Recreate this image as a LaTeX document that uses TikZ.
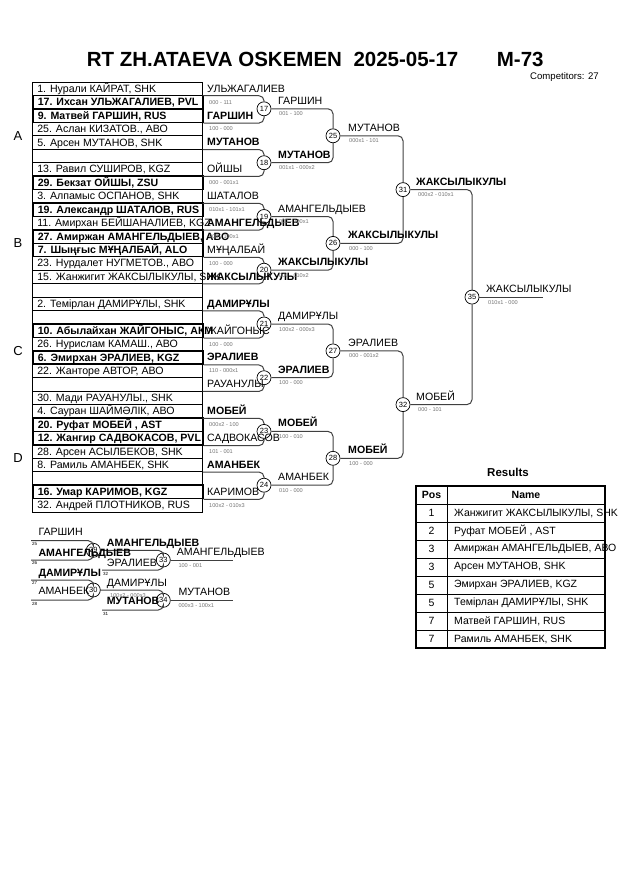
\documentclass[tikz,border=0pt]{standalone}
\usepackage{fontspec}
\setmainfont{Liberation Sans}
\newcommand{\rowtext}[1]{\makebox[170pt][l]{\hspace{5pt}#1}}
\begin{document}
\begin{tikzpicture}[x=1pt,y=-1pt,
  entrant/.style={draw,line width=0.6pt,anchor=west,minimum width=170pt,minimum height=13.44pt,inner sep=0pt,text height=8.6pt,text depth=1.5pt,font=\fontsize{10.6}{12}\selectfont},
  bentrant/.style={entrant,line width=1.5pt,font=\fontsize{10.6}{12}\selectfont\bfseries},
  winner/.style={anchor=base west,inner sep=0pt,font=\fontsize{10.6}{12}\selectfont},
  bwinner/.style={winner,font=\fontsize{10.6}{12}\selectfont\bfseries},
  score/.style={anchor=base west,inner sep=0pt,text=black!55,font=\fontsize{5.6}{6}\selectfont},
  tag/.style={anchor=base west,inner sep=0pt,font=\fontsize{4.5}{5}\selectfont},
  bout/.style={circle,draw,fill=white,line width=0.7pt,minimum size=14pt,inner sep=0pt,font=\fontsize{7.5}{8}\selectfont},
  link/.style={draw=black!75,line width=1pt,rounded corners=5pt},
  pool/.style={font=\fontsize{13}{15}\selectfont},
  cell/.style={font=\fontsize{10.5}{12}\selectfont}]
\useasboundingbox (0,0) rectangle (630,891);

% title
\node[anchor=base west,inner sep=0pt,font=\fontsize{20.5}{24}\selectfont\bfseries] (t1) at (86.7,66.5) {RT ZH.ATAEVA OSKEMEN};
\node[anchor=base west,inner sep=0pt,font=\fontsize{20.5}{24}\selectfont\bfseries] (t2) at (353.3,66.5) {2025-05-17};
\node[anchor=base west,inner sep=0pt,font=\fontsize{20.5}{24}\selectfont\bfseries] (t3) at (496.7,66.5) {M-73};
\node[anchor=base east,inner sep=0pt,font=\fontsize{9.6}{11}\selectfont] (comp) at (599,79.3) {Competitors: 27};

% pools
\node[pool] (pa) at (18,135.8) {A};
\node[pool] (pb) at (18,243.3) {B};
\node[pool] (pc) at (18,350.8) {C};
\node[pool] (pd) at (18,458.3) {D};

% entrants
\node[entrant] (r0) at (32,88.72) {\rowtext{1. Нурали КАЙРАТ, SHK}};
\node[bentrant] (r1) at (32,102.16) {\rowtext{17. Ихсан УЛЬЖАГАЛИЕВ, PVL}};
\node[bentrant] (r2) at (32,115.60) {\rowtext{9. Матвей ГАРШИН, RUS}};
\node[entrant] (r3) at (32,129.04) {\rowtext{25. Аслан КИЗАТОВ., АВО}};
\node[entrant] (r4) at (32,142.48) {\rowtext{5. Арсен МУТАНОВ, SHK}};
\node[entrant] (r5) at (32,155.92) {\rowtext{}};
\node[entrant] (r6) at (32,169.36) {\rowtext{13. Равил СУШИРОВ, KGZ}};
\node[bentrant] (r7) at (32,182.80) {\rowtext{29. Бекзат ОЙШЫ, ZSU}};
\node[entrant] (r8) at (32,196.24) {\rowtext{3. Алпамыс ОСПАНОВ, SHK}};
\node[bentrant] (r9) at (32,209.68) {\rowtext{19. Александр ШАТАЛОВ, RUS}};
\node[entrant] (r10) at (32,223.12) {\rowtext{11. Амирхан БЕЙШАНАЛИЕВ, KGZ}};
\node[bentrant] (r11) at (32,236.56) {\rowtext{27. Амиржан АМАНГЕЛЬДЫЕВ, АВО}};
\node[bentrant] (r12) at (32,250.00) {\rowtext{7. Шыңғыс МҰҢАЛБАЙ, ALO}};
\node[entrant] (r13) at (32,263.44) {\rowtext{23. Нурдалет НУГМЕТОВ., АВО}};
\node[entrant] (r14) at (32,276.88) {\rowtext{15. Жанжигит ЖАКСЫЛЫКУЛЫ, SHK}};
\node[entrant] (r15) at (32,290.32) {\rowtext{}};
\node[entrant] (r16) at (32,303.76) {\rowtext{2. Темірлан ДАМИРҰЛЫ, SHK}};
\node[entrant] (r17) at (32,317.20) {\rowtext{}};
\node[bentrant] (r18) at (32,330.64) {\rowtext{10. Абылайхан ЖАЙГОНЫС, АКМ}};
\node[entrant] (r19) at (32,344.08) {\rowtext{26. Нурислам КАМАШ., АВО}};
\node[bentrant] (r20) at (32,357.52) {\rowtext{6. Эмирхан ЭРАЛИЕВ, KGZ}};
\node[entrant] (r21) at (32,370.96) {\rowtext{22. Жанторе АВТОР, АВО}};
\node[entrant] (r22) at (32,384.40) {\rowtext{}};
\node[entrant] (r23) at (32,397.84) {\rowtext{30. Мади РАУАНУЛЫ., SHK}};
\node[entrant] (r24) at (32,411.28) {\rowtext{4. Сауран ШАЙМӘЛІК, АВО}};
\node[bentrant] (r25) at (32,424.72) {\rowtext{20. Руфат МОБЕЙ , AST}};
\node[bentrant] (r26) at (32,438.16) {\rowtext{12. Жангир САДВОКАСОВ, PVL}};
\node[entrant] (r27) at (32,451.60) {\rowtext{28. Арсен АСЫЛБЕКОВ, SHK}};
\node[entrant] (r28) at (32,465.04) {\rowtext{8. Рамиль АМАНБЕК, SHK}};
\node[entrant] (r29) at (32,478.48) {\rowtext{}};
\node[bentrant] (r30) at (32,491.92) {\rowtext{16. Умар КАРИМОВ, KGZ}};
\node[entrant] (r31) at (32,505.36) {\rowtext{32. Андрей ПЛОТНИКОВ, RUS}};

% bouts
\node[bout] (m17) at (264,108.8) {17};
\node[bout] (m18) at (264,162.7) {18};
\node[bout] (m19) at (264,216.5) {19};
\node[bout] (m20) at (264,270.2) {20};
\node[bout] (m21) at (264,324.0) {21};
\node[bout] (m22) at (264,377.7) {22};
\node[bout] (m23) at (264,431.4) {23};
\node[bout] (m24) at (264,485.2) {24};
\node[bout] (m25) at (333,135.8) {25};
\node[bout] (m26) at (333,243.4) {26};
\node[bout] (m27) at (333,350.9) {27};
\node[bout] (m28) at (333,458.3) {28};
\node[bout] (m31) at (403,189.6) {31};
\node[bout] (m32) at (403,404.6) {32};
\node[bout] (m35) at (472,297.1) {35};
\coordinate (f35) at (543,297.1);

\draw[link] (r0.south east) -| (m17);
\draw[link] (r2.south east) -| (m17);
\draw[link] (r4.south east) -| (m18);
\draw[link] (r6.south east) -| (m18);
\draw[link] (r8.south east) -| (m19);
\draw[link] (r10.south east) -| (m19);
\draw[link] (r12.south east) -| (m20);
\draw[link] (r14.south east) -| (m20);
\draw[link] (r16.south east) -| (m21);
\draw[link] (r18.south east) -| (m21);
\draw[link] (r20.south east) -| (m22);
\draw[link] (r22.south east) -| (m22);
\draw[link] (r24.south east) -| (m23);
\draw[link] (r26.south east) -| (m23);
\draw[link] (r28.south east) -| (m24);
\draw[link] (r30.south east) -| (m24);
\draw[link] (m17) -| (m25);
\draw[link] (m18) -| (m25);
\draw[link] (m19) -| (m26);
\draw[link] (m20) -| (m26);
\draw[link] (m21) -| (m27);
\draw[link] (m22) -| (m27);
\draw[link] (m23) -| (m28);
\draw[link] (m24) -| (m28);
\draw[link] (m25) -| (m31);
\draw[link] (m26) -| (m31);
\draw[link] (m27) -| (m32);
\draw[link] (m28) -| (m32);
\draw[link] (m31) -| (m35);
\draw[link] (m32) -| (m35);
\draw[link] (m35) -- (f35);

% first round
\node[winner] (w0) at (207,92.1) {УЛЬЖАГАЛИЕВ};
\node[score] (s1) at (209,104.1) {000 - 111};
\node[bwinner] (w2) at (207,119.0) {ГАРШИН};
\node[score] (s3) at (209,130.9) {100 - 000};
\node[bwinner] (w4) at (207,145.9) {МУТАНОВ};
\node[winner] (w6) at (207,172.8) {ОЙШЫ};
\node[score] (s7) at (209,184.7) {000 - 001x1};
\node[winner] (w8) at (207,199.6) {ШАТАЛОВ};
\node[score] (s9) at (209,211.6) {010x1 - 101x1};
\node[bwinner] (w10) at (207,226.5) {АМАНГЕЛЬДЫЕВ};
\node[score] (s11) at (209,238.5) {000 - 100x1};
\node[winner] (w12) at (207,253.4) {МҰҢАЛБАЙ};
\node[score] (s13) at (209,265.3) {100 - 000};
\node[bwinner] (w14) at (207,280.3) {ЖАКСЫЛЫКУЛЫ};
\node[bwinner] (w16) at (207,307.2) {ДАМИРҰЛЫ};
\node[winner] (w18) at (207,334.0) {ЖАЙГОНЫС};
\node[score] (s19) at (209,346.0) {100 - 000};
\node[bwinner] (w20) at (207,360.9) {ЭРАЛИЕВ};
\node[score] (s21) at (209,372.9) {110 - 000x1};
\node[winner] (w22) at (207,387.8) {РАУАНУЛЫ};
\node[bwinner] (w24) at (207,414.7) {МОБЕЙ};
\node[score] (s25) at (209,426.6) {000x2 - 100};
\node[winner] (w26) at (207,441.6) {САДВОКАСОВ};
\node[score] (s27) at (209,453.5) {101 - 001};
\node[bwinner] (w28) at (207,468.4) {АМАНБЕК};
\node[winner] (w30) at (207,495.3) {КАРИМОВ};
\node[score] (s31) at (209,507.3) {100x2 - 010x3};

% next rounds
\node[winner] (v17) at (278,104.3) {ГАРШИН};
\node[score] (c17) at (279,115.8) {001 - 100};
\node[bwinner] (v18) at (278,158.2) {МУТАНОВ};
\node[score] (c18) at (279,169.7) {001x1 - 000x2};
\node[winner] (v19) at (278,212.0) {АМАНГЕЛЬДЫЕВ};
\node[score] (c19) at (279,223.5) {000 - 100x1};
\node[bwinner] (v20) at (278,265.7) {ЖАКСЫЛЫКУЛЫ};
\node[score] (c20) at (279,277.2) {000 - 010x2};
\node[winner] (v21) at (278,319.5) {ДАМИРҰЛЫ};
\node[score] (c21) at (279,331.0) {100x2 - 000x3};
\node[bwinner] (v22) at (278,373.2) {ЭРАЛИЕВ};
\node[score] (c22) at (279,384.7) {100 - 000};
\node[bwinner] (v23) at (278,426.9) {МОБЕЙ};
\node[score] (c23) at (279,438.4) {100 - 010};
\node[winner] (v24) at (278,480.7) {АМАНБЕК};
\node[score] (c24) at (279,492.2) {010 - 000};
\node[winner] (v25) at (348,131.3) {МУТАНОВ};
\node[score] (c25) at (349,142.8) {000x1 - 101};
\node[bwinner] (v26) at (348,238.9) {ЖАКСЫЛЫКУЛЫ};
\node[score] (c26) at (349,250.4) {000 - 100};
\node[winner] (v27) at (348,346.4) {ЭРАЛИЕВ};
\node[score] (c27) at (349,357.9) {000 - 001x2};
\node[bwinner] (v28) at (348,453.8) {МОБЕЙ};
\node[score] (c28) at (349,465.3) {100 - 000};
\node[bwinner] (v31) at (416,185.1) {ЖАКСЫЛЫКУЛЫ};
\node[score] (c31) at (418,196.6) {000x2 - 010x1};
\node[winner] (v32) at (416,400.1) {МОБЕЙ};
\node[score] (c32) at (418,411.6) {000 - 101};
\node[winner] (v35) at (486,292.6) {ЖАКСЫЛЫКУЛЫ};
\node[score] (c35) at (488,304.1) {010x1 - 000};

% repechage
\coordinate (l25) at (31,540.7);
\coordinate (l26) at (31,560);
\coordinate (l27) at (31,580);
\coordinate (l28) at (31,600);
\coordinate (e32) at (102,570);
\coordinate (e31) at (102,610);
\coordinate (f33) at (233.3,560);
\coordinate (f34) at (233.3,600.3);
\node[bout] (m29) at (93.3,550.3) {29};
\node[bout] (m30) at (93.3,590) {30};
\node[bout] (m33) at (163.3,560) {33};
\node[bout] (m34) at (163.3,600.3) {34};
\draw[link] (l25) -| (m29);
\draw[link] (l26) -| (m29);
\draw[link] (l27) -| (m30);
\draw[link] (l28) -| (m30);
\draw[link] (m29) -| (m33);
\draw[link] (e32) -| (m33);
\draw[link] (m30) -| (m34);
\draw[link] (e31) -| (m34);
\draw[link] (m33) -- (f33);
\draw[link] (m34) -- (f34);
\node[winner] (g25) at (38.3,535.1) {ГАРШИН};
\node[tag] (k25) at (32,545) {25};
\node[bwinner] (g26) at (38.3,556.7) {АМАНГЕЛЬДЫЕВ};
\node[tag] (k26) at (32,564.5) {26};
\node[bwinner] (g27) at (38.3,576.7) {ДАМИРҰЛЫ};
\node[tag] (k27) at (32,584.5) {27};
\node[winner] (g28) at (38.3,594.1) {АМАНБЕК};
\node[tag] (k28) at (32,605) {28};
\node[bwinner] (v29) at (106.7,546.7) {АМАНГЕЛЬДЫЕВ};
\node[winner] (g32) at (106.7,566.1) {ЭРАЛИЕВ};
\node[tag] (k32) at (103,575.5) {32};
\node[winner] (v30) at (106.7,586.1) {ДАМИРҰЛЫ};
\node[score] (c30) at (110,597) {100x2 - 000x3};
\node[bwinner] (g31) at (106.7,604.1) {МУТАНОВ};
\node[tag] (k31) at (103,615) {31};
\node[winner] (v33) at (176.7,555.7) {АМАНГЕЛЬДЫЕВ};
\node[score] (c33) at (178.3,567) {100 - 001};
\node[winner] (v34) at (178.3,595.1) {МУТАНОВ};
\node[score] (c34) at (178.3,607) {000x3 - 100x1};

% results
\node[font=\fontsize{11.5}{13}\selectfont\bfseries] (res) at (508,472) {Results};
\draw[line width=1pt] (416,504) -- (605,504);
\draw[line width=1pt] (416,522) -- (605,522);
\draw[line width=1pt] (416,540) -- (605,540);
\draw[line width=1pt] (416,558) -- (605,558);
\draw[line width=1pt] (416,576) -- (605,576);
\draw[line width=1pt] (416,594) -- (605,594);
\draw[line width=1pt] (416,612) -- (605,612);
\draw[line width=1pt] (416,630) -- (605,630);
\draw[line width=1pt] (447,486) -- (447,648);
\draw[line width=1.6pt] (416,486) rectangle (605,648);
\node[cell,font=\fontsize{10.5}{12}\selectfont\bfseries] (hpos) at (431.5,495) {Pos};
\node[cell,font=\fontsize{10.5}{12}\selectfont\bfseries] (hname) at (526,495) {Name};
\node[cell] (pos1) at (431.5,513) {1};
\node[cell] (pos2) at (431.5,531) {2};
\node[cell] (pos3) at (431.5,549) {3};
\node[cell] (pos4) at (431.5,567) {3};
\node[cell] (pos5) at (431.5,585) {5};
\node[cell] (pos6) at (431.5,603) {5};
\node[cell] (pos7) at (431.5,621) {7};
\node[cell] (pos8) at (431.5,639) {7};
\node[cell,anchor=west,inner sep=0pt] (nm1) at (454,513) {Жанжигит ЖАКСЫЛЫКУЛЫ, SHK};
\node[cell,anchor=west,inner sep=0pt] (nm2) at (454,531) {Руфат МОБЕЙ , AST};
\node[cell,anchor=west,inner sep=0pt] (nm3) at (454,549) {Амиржан АМАНГЕЛЬДЫЕВ, АВО};
\node[cell,anchor=west,inner sep=0pt] (nm4) at (454,567) {Арсен МУТАНОВ, SHK};
\node[cell,anchor=west,inner sep=0pt] (nm5) at (454,585) {Эмирхан ЭРАЛИЕВ, KGZ};
\node[cell,anchor=west,inner sep=0pt] (nm6) at (454,603) {Темірлан ДАМИРҰЛЫ, SHK};
\node[cell,anchor=west,inner sep=0pt] (nm7) at (454,621) {Матвей ГАРШИН, RUS};
\node[cell,anchor=west,inner sep=0pt] (nm8) at (454,639) {Рамиль АМАНБЕК, SHK};
\end{tikzpicture}
\end{document}
